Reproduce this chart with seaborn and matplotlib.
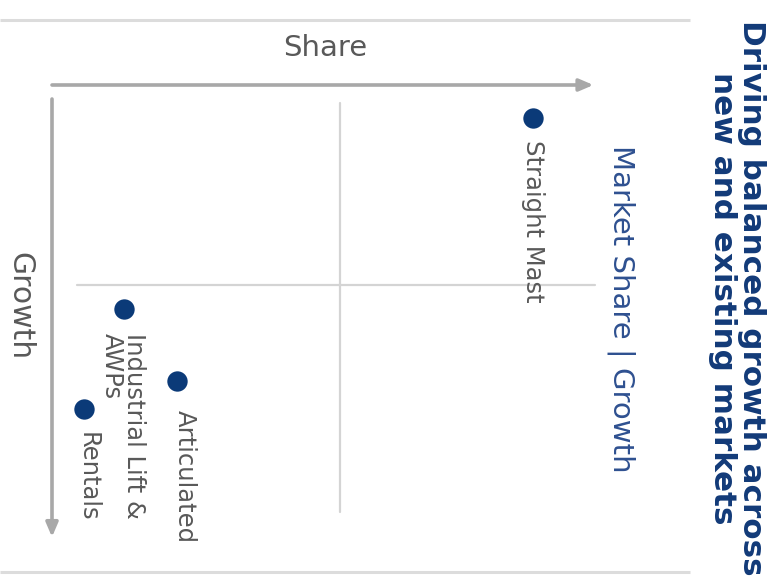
import matplotlib
matplotlib.use("Agg")
import matplotlib.pyplot as plt
import seaborn as sns
import pandas as pd

# Product segments positioned on the share / growth matrix
segments = ["Straight Mast", "Industrial Lift &\nAWPs", "Articulated", "Rentals"]
share = [8.35, 1.25, 2.17, 0.56]
growth = [0.83, 5.6, 7.4, 8.1]

# Quadrant dividers and axis extents (share and growth units)
share_mid = 5.0
growth_mid = 5.0
share_end = 9.4
growth_end = 11.3

df = pd.DataFrame({"segment": segments, "share": share, "growth": growth})

sns.set_theme(style="white")
plt.rcParams["font.family"] = ["DejaVu Sans"]

NAVY = "#0b3a78"
GRAY_TXT = "#595959"
ARROW = "#a8a8a8"
DIV = "#d4d4d4"

fig = plt.figure(figsize=(7.82, 5.77), dpi=100)
ax = fig.add_axes([0, 0, 1, 1])
px_x = 57.6  # pixels per share unit
px_y = 40.0  # pixels per growth unit
ax.set_xlim(-52 / px_x, (782 - 52) / px_x)
ax.set_ylim((577 - 85) / px_y, -85 / px_y)
ax.axis("off")

# Frame rules above and below the slide content
for yy in (-65 / px_y, (572 - 85) / px_y):
    ax.plot([ax.get_xlim()[0], (690 - 52) / px_x], [yy, yy], color="#dcdcdc", lw=2.2,
            solid_capstyle="butt", zorder=1)

# Axis arrows
ax.annotate("", xy=(share_end, 0), xytext=(0, 0),
            arrowprops=dict(arrowstyle="-|>,head_length=0.7,head_width=0.3", color=ARROW, lw=2.6,
                            shrinkA=0, shrinkB=0), zorder=2)
ax.annotate("", xy=(0, growth_end), xytext=(0, 0.35),
            arrowprops=dict(arrowstyle="-|>,head_length=0.7,head_width=0.3", color=ARROW, lw=2.6,
                            shrinkA=0, shrinkB=0), zorder=2)

# Quadrant dividers
ax.plot([share_mid, share_mid], [(103 - 85) / px_y, (512 - 85) / px_y], color=DIV, lw=1.6, zorder=1)
ax.plot([(77 - 52) / px_x, (595 - 52) / px_x], [growth_mid, growth_mid], color=DIV, lw=1.6, zorder=1)

# Segment markers
sns.scatterplot(data=df, x="share", y="growth", ax=ax, s=215, color=NAVY,
                edgecolor=NAVY, linewidth=0, zorder=5, legend=False)

# Segment labels, set below each marker
offsets = [(0, -22), (-1, -24), (8, -29), (3, -23)]
for seg, sx, gy, (dx, dy) in zip(segments, share, growth, offsets):
    ax.annotate(seg, xy=(sx, gy), xytext=(dx, dy), textcoords="offset pixels",
                rotation=-90, ha="center", va="top", multialignment="left",
                fontsize=17.5, color=GRAY_TXT, linespacing=0.9, zorder=6)

# Axis names
fig.text(325 / 782, 1 - 48 / 577, "Share", ha="center", va="center", fontsize=21, color="#595959")
fig.text(20 / 782, 1 - 306 / 577, "Growth", ha="center", va="center", rotation=-90,
         fontsize=21.5, color="#595959")

# Side captions
fig.text(621 / 782, 1 - 309 / 577, "Market Share | Growth", ha="center", va="center",
         rotation=-90, fontsize=21, color="#2e5090")
fig.text(737 / 782, 1 - 20 / 577, "Driving balanced growth across\nnew and existing markets",
         ha="center", va="top", rotation=-90, multialignment="center",
         fontsize=22.3, fontweight="bold", color="#123a78", linespacing=0.98)

fig.savefig("out.png", dpi=100)
